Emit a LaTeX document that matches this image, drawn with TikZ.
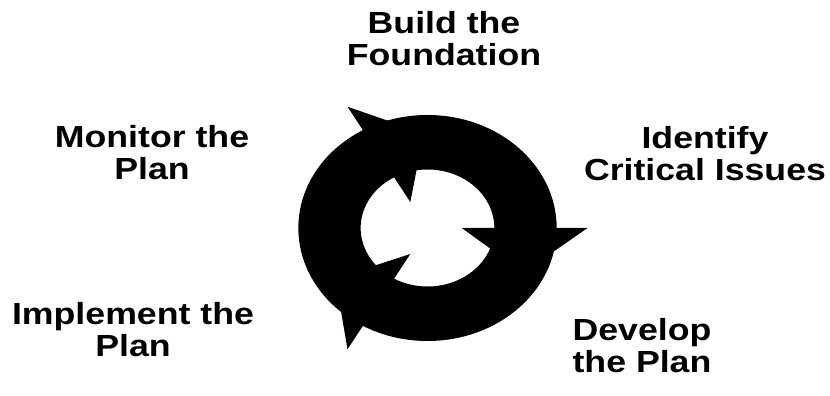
\documentclass[tikz,border=0pt]{standalone}
\usepackage{fontspec}
\setmainfont{Liberation Sans}
\usepackage{tikz}
\usetikzlibrary{positioning}

\begin{document}
\begin{tikzpicture}[x=1pt, y=1pt,
          every node/.style={font=\bfseries\fontsize{30.5}{32}\selectfont, align=center, xscale=1.17}]
  \useasboundingbox (0,0) rectangle (830,396);

  % the cycle: a thick ring with three heads on it
  \begin{scope}[shift={(427.5,168)}, xscale=1.143]
    \fill[even odd rule] (0,0) circle (113) (0,0) circle (58.5);
    \foreach \a in {0,120,240}
      \fill (\a:30) -- (\a:140) -- (\a-28:95) -- cycle;
  \end{scope}

  \node (build) at (444,357) {Build the\\Foundation};
  \node (identify) at (705,242) {Identify\\Critical Issues};
  \node (develop) at (642,50.5) {Develop\\the Plan};
  \node (implement) at (133,66) {Implement the\\Plan};
  \node (monitor) at (152,243.5) {Monitor the\\Plan};
\end{tikzpicture}
\end{document}
